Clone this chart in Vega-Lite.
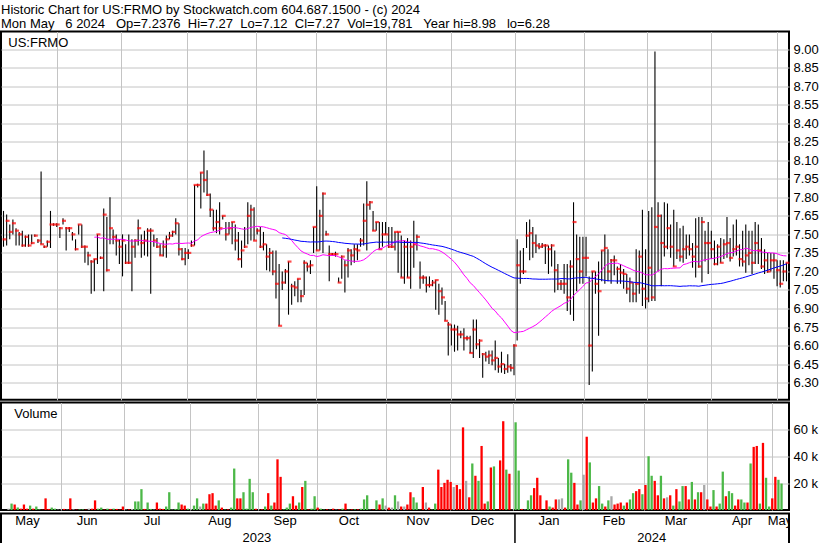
{
"$schema":"https://vega.github.io/schema/vega-lite/v6.json",
"background":"white",
"padding":{"top":3.5,"left":0,"right":0,"bottom":0},
"spacing":0,
"config":{"font":"Liberation Sans","view":{"stroke":"black","strokeWidth":2},
"axis":{"labelFont":"Liberation Sans","labelFontSize":13,"labelColor":"black","gridColor":"#c4c4c4","gridWidth":1,"gridOpacity":1,"domain":false,"ticks":false,"title":null,"minExtent":0,"labelOverlap":false}},
"title":{"text":["Historic Chart for US:FRMO by Stockwatch.com 604.687.1500 - (c) 2024","Mon May \u00a0 6 2024 \u00a0 Op=7.2376 \u00a0Hi=7.27 \u00a0Lo=7.12 \u00a0Cl=7.27 \u00a0Vol=19,781 \u00a0 Year hi=8.98 \u00a0 lo=6.28"],"anchor":"start","font":"Liberation Sans","fontSize":13,"fontWeight":"normal","color":"black","lineHeight":13.5,"offset":0,"dx":1},
"datasets":{
"d":[
{"i":0,"h":7.69,"l":7.40,"c":7.46,"v":1000,"d":"n"},
{"i":1,"h":7.66,"l":7.41,"c":7.61,"v":4800,"d":"u"},
{"i":2,"h":7.58,"l":7.46,"c":7.52,"v":4100,"d":"d"},
{"i":3,"h":7.62,"l":7.50,"c":7.59,"v":1800,"d":"u"},
{"i":4,"h":7.55,"l":7.41,"c":7.53,"v":1000,"d":"d"},
{"i":5,"h":7.52,"l":7.41,"c":7.50,"v":4100,"d":"d"},
{"i":6,"h":7.53,"l":7.40,"c":7.41,"v":1000,"d":"d"},
{"i":7,"h":7.49,"l":7.40,"c":7.48,"v":3300,"d":"u"},
{"i":8,"h":7.50,"l":7.40,"c":7.41,"v":1000,"d":"d"},
{"i":9,"h":7.50,"l":7.42,"c":7.43,"v":2600,"d":"u"},
{"i":10,"h":7.50,"l":7.48,"c":7.49,"v":500,"d":"u"},
{"i":11,"h":7.46,"l":7.43,"c":7.45,"v":300,"d":"d"},
{"i":12,"h":8.01,"l":7.42,"c":7.42,"v":8700,"d":"d"},
{"i":13,"h":7.41,"l":7.39,"c":7.40,"v":800,"d":"d"},
{"i":14,"h":7.45,"l":7.40,"c":7.44,"v":1800,"d":"u"},
{"i":15,"h":7.69,"l":7.39,"c":7.58,"v":1000,"d":"u"},
{"i":16,"h":7.59,"l":7.57,"c":7.58,"v":300,"d":"n"},
{"i":17,"h":7.59,"l":7.56,"c":7.58,"v":300,"d":"n"},
{"i":18,"h":7.56,"l":7.47,"c":7.55,"v":800,"d":"d"},
{"i":19,"h":7.63,"l":7.58,"c":7.61,"v":300,"d":"n"},
{"i":20,"h":7.56,"l":7.37,"c":7.55,"v":8700,"d":"d"},
{"i":21,"h":7.56,"l":7.52,"c":7.55,"v":500,"d":"n"},
{"i":22,"h":7.52,"l":7.45,"c":7.50,"v":300,"d":"d"},
{"i":23,"h":7.46,"l":7.37,"c":7.38,"v":500,"d":"u"},
{"i":24,"h":7.58,"l":7.50,"c":7.58,"v":500,"d":"u"},
{"i":25,"h":7.58,"l":7.39,"c":7.40,"v":300,"d":"d"},
{"i":26,"h":7.41,"l":7.27,"c":7.40,"v":1000,"d":"n"},
{"i":27,"h":7.36,"l":7.25,"c":7.33,"v":1000,"d":"d"},
{"i":28,"h":7.29,"l":7.02,"c":7.28,"v":7200,"d":"d"},
{"i":29,"h":7.30,"l":7.04,"c":7.30,"v":1000,"d":"u"},
{"i":30,"h":7.50,"l":7.26,"c":7.50,"v":1800,"d":"u"},
{"i":31,"h":7.32,"l":7.30,"c":7.31,"v":300,"d":"d"},
{"i":32,"h":7.71,"l":7.04,"c":7.66,"v":1000,"d":"u"},
{"i":33,"h":7.64,"l":7.20,"c":7.21,"v":800,"d":"d"},
{"i":34,"h":7.80,"l":7.42,"c":7.55,"v":1000,"d":"u"},
{"i":35,"h":7.54,"l":7.42,"c":7.48,"v":800,"d":"d"},
{"i":36,"h":7.50,"l":7.33,"c":7.45,"v":300,"d":"d"},
{"i":37,"h":7.46,"l":7.26,"c":7.40,"v":2600,"d":"d"},
{"i":38,"h":7.50,"l":7.16,"c":7.45,"v":300,"d":"n"},
{"i":39,"h":7.42,"l":7.26,"c":7.27,"v":500,"d":"d"},
{"i":40,"h":7.50,"l":7.26,"c":7.27,"v":800,"d":"n"},
{"i":41,"h":7.46,"l":7.04,"c":7.40,"v":6400,"d":"u"},
{"i":42,"h":7.46,"l":7.31,"c":7.45,"v":6400,"d":"u"},
{"i":43,"h":7.62,"l":7.41,"c":7.55,"v":15600,"d":"u"},
{"i":44,"h":7.50,"l":7.31,"c":7.43,"v":800,"d":"d"},
{"i":45,"h":7.53,"l":7.33,"c":7.45,"v":5600,"d":"u"},
{"i":46,"h":7.55,"l":7.32,"c":7.53,"v":800,"d":"u"},
{"i":47,"h":7.55,"l":7.02,"c":7.53,"v":300,"d":"n"},
{"i":48,"h":7.50,"l":7.40,"c":7.45,"v":5600,"d":"d"},
{"i":49,"h":7.47,"l":7.39,"c":7.40,"v":1000,"d":"d"},
{"i":50,"h":7.42,"l":7.33,"c":7.33,"v":800,"d":"d"},
{"i":51,"h":7.45,"l":7.32,"c":7.40,"v":2600,"d":"u"},
{"i":52,"h":7.49,"l":7.31,"c":7.46,"v":13300,"d":"u"},
{"i":53,"h":7.52,"l":7.46,"c":7.49,"v":300,"d":"n"},
{"i":54,"h":7.53,"l":7.48,"c":7.52,"v":800,"d":"u"},
{"i":55,"h":7.63,"l":7.50,"c":7.59,"v":5600,"d":"u"},
{"i":56,"h":7.59,"l":7.33,"c":7.38,"v":4100,"d":"d"},
{"i":57,"h":7.39,"l":7.29,"c":7.30,"v":3300,"d":"d"},
{"i":58,"h":7.39,"l":7.25,"c":7.35,"v":1000,"d":"u"},
{"i":59,"h":7.38,"l":7.30,"c":7.35,"v":800,"d":"n"},
{"i":60,"h":7.45,"l":7.40,"c":7.41,"v":3300,"d":"u"},
{"i":61,"h":7.90,"l":7.41,"c":7.90,"v":8700,"d":"u"},
{"i":62,"h":7.91,"l":7.88,"c":7.90,"v":2600,"d":"n"},
{"i":63,"h":8.00,"l":7.71,"c":8.00,"v":4800,"d":"u"},
{"i":64,"h":8.18,"l":7.84,"c":7.94,"v":4800,"d":"d"},
{"i":65,"h":8.02,"l":7.81,"c":7.82,"v":11800,"d":"d"},
{"i":66,"h":7.83,"l":7.64,"c":7.70,"v":12600,"d":"d"},
{"i":67,"h":7.70,"l":7.53,"c":7.55,"v":3300,"d":"d"},
{"i":68,"h":7.70,"l":7.51,"c":7.60,"v":7200,"d":"u"},
{"i":69,"h":7.76,"l":7.50,"c":7.55,"v":1800,"d":"d"},
{"i":70,"h":7.65,"l":7.62,"c":7.65,"v":300,"d":"u"},
{"i":71,"h":7.60,"l":7.45,"c":7.50,"v":500,"d":"d"},
{"i":72,"h":7.60,"l":7.50,"c":7.55,"v":1800,"d":"u"},
{"i":73,"h":7.60,"l":7.42,"c":7.60,"v":31000,"d":"u"},
{"i":74,"h":7.58,"l":7.37,"c":7.45,"v":8700,"d":"d"},
{"i":75,"h":7.52,"l":7.29,"c":7.30,"v":8700,"d":"d"},
{"i":76,"h":7.45,"l":7.23,"c":7.37,"v":13300,"d":"u"},
{"i":77,"h":7.56,"l":7.39,"c":7.40,"v":1000,"d":"u"},
{"i":78,"h":7.76,"l":7.42,"c":7.65,"v":23300,"d":"u"},
{"i":79,"h":7.74,"l":7.45,"c":7.70,"v":13300,"d":"u"},
{"i":80,"h":7.72,"l":7.45,"c":7.45,"v":1000,"d":"d"},
{"i":81,"h":7.55,"l":7.50,"c":7.53,"v":300,"d":"n"},
{"i":82,"h":7.56,"l":7.39,"c":7.40,"v":500,"d":"d"},
{"i":83,"h":7.52,"l":7.37,"c":7.42,"v":2600,"d":"u"},
{"i":84,"h":7.42,"l":7.21,"c":7.32,"v":12600,"d":"d"},
{"i":85,"h":7.39,"l":7.20,"c":7.35,"v":3300,"d":"u"},
{"i":86,"h":7.37,"l":7.17,"c":7.20,"v":5600,"d":"d"},
{"i":87,"h":7.37,"l":6.98,"c":7.10,"v":37900,"d":"d"},
{"i":88,"h":7.26,"l":6.76,"c":6.76,"v":24800,"d":"d"},
{"i":89,"h":7.20,"l":7.05,"c":7.11,"v":500,"d":"u"},
{"i":90,"h":7.22,"l":7.10,"c":7.20,"v":1800,"d":"u"},
{"i":91,"h":7.28,"l":6.85,"c":7.28,"v":4800,"d":"u"},
{"i":92,"h":7.10,"l":6.93,"c":7.08,"v":10300,"d":"d"},
{"i":93,"h":7.12,"l":7.00,"c":7.07,"v":3300,"d":"d"},
{"i":94,"h":7.14,"l":6.95,"c":7.14,"v":5600,"d":"u"},
{"i":95,"h":7.05,"l":6.95,"c":7.00,"v":17200,"d":"d"},
{"i":96,"h":7.29,"l":7.01,"c":7.27,"v":21800,"d":"u"},
{"i":97,"h":7.27,"l":7.20,"c":7.24,"v":500,"d":"d"},
{"i":98,"h":7.29,"l":7.18,"c":7.25,"v":1000,"d":"u"},
{"i":99,"h":7.56,"l":7.35,"c":7.56,"v":10300,"d":"u"},
{"i":100,"h":7.89,"l":7.37,"c":7.37,"v":1800,"d":"d"},
{"i":101,"h":7.70,"l":7.37,"c":7.65,"v":1000,"d":"u"},
{"i":102,"h":7.84,"l":7.35,"c":7.83,"v":300,"d":"u"},
{"i":103,"h":7.53,"l":7.49,"c":7.50,"v":500,"d":"d"},
{"i":104,"h":7.41,"l":7.12,"c":7.34,"v":200,"d":"n"},
{"i":105,"h":7.35,"l":7.33,"c":7.34,"v":1000,"d":"d"},
{"i":106,"h":7.36,"l":7.32,"c":7.34,"v":300,"d":"n"},
{"i":107,"h":7.15,"l":7.11,"c":7.11,"v":500,"d":"d"},
{"i":108,"h":7.33,"l":7.14,"c":7.32,"v":1000,"d":"u"},
{"i":109,"h":7.29,"l":7.03,"c":7.25,"v":4800,"d":"d"},
{"i":110,"h":7.39,"l":7.15,"c":7.37,"v":300,"d":"u"},
{"i":111,"h":7.38,"l":7.25,"c":7.33,"v":500,"d":"d"},
{"i":112,"h":7.42,"l":7.27,"c":7.38,"v":500,"d":"u"},
{"i":113,"h":7.42,"l":7.29,"c":7.37,"v":500,"d":"d"},
{"i":114,"h":7.47,"l":7.40,"c":7.45,"v":1000,"d":"u"},
{"i":115,"h":7.75,"l":7.41,"c":7.61,"v":7900,"d":"u"},
{"i":116,"h":7.93,"l":7.37,"c":7.74,"v":11000,"d":"u"},
{"i":117,"h":7.77,"l":7.70,"c":7.76,"v":300,"d":"n"},
{"i":118,"h":7.69,"l":7.53,"c":7.53,"v":500,"d":"d"},
{"i":119,"h":7.60,"l":7.53,"c":7.60,"v":7200,"d":"u"},
{"i":120,"h":7.60,"l":7.38,"c":7.38,"v":4100,"d":"d"},
{"i":121,"h":7.60,"l":7.40,"c":7.50,"v":8700,"d":"u"},
{"i":122,"h":7.60,"l":7.50,"c":7.50,"v":3300,"d":"n"},
{"i":123,"h":7.56,"l":7.39,"c":7.40,"v":1800,"d":"d"},
{"i":124,"h":7.56,"l":7.39,"c":7.40,"v":1800,"d":"n"},
{"i":125,"h":7.52,"l":7.37,"c":7.52,"v":11000,"d":"u"},
{"i":126,"h":7.52,"l":7.19,"c":7.52,"v":6400,"d":"n"},
{"i":127,"h":7.49,"l":7.15,"c":7.15,"v":2600,"d":"d"},
{"i":128,"h":7.45,"l":7.10,"c":7.40,"v":2600,"d":"n"},
{"i":129,"h":7.47,"l":7.15,"c":7.15,"v":4100,"d":"d"},
{"i":130,"h":7.45,"l":7.06,"c":7.40,"v":13300,"d":"d"},
{"i":131,"h":7.61,"l":7.23,"c":7.42,"v":9500,"d":"u"},
{"i":132,"h":7.50,"l":7.37,"c":7.48,"v":5600,"d":"u"},
{"i":133,"h":7.28,"l":7.06,"c":7.15,"v":300,"d":"u"},
{"i":134,"h":7.17,"l":7.10,"c":7.15,"v":17200,"d":"d"},
{"i":135,"h":7.16,"l":7.03,"c":7.09,"v":5600,"d":"n"},
{"i":136,"h":7.16,"l":7.07,"c":7.09,"v":1800,"d":"d"},
{"i":137,"h":7.13,"l":7.08,"c":7.11,"v":300,"d":"u"},
{"i":138,"h":7.13,"l":6.89,"c":7.13,"v":4800,"d":"u"},
{"i":139,"h":7.10,"l":6.85,"c":7.04,"v":30200,"d":"d"},
{"i":140,"h":7.07,"l":6.93,"c":6.99,"v":17200,"d":"d"},
{"i":141,"h":6.96,"l":6.80,"c":6.80,"v":20300,"d":"d"},
{"i":142,"h":6.79,"l":6.52,"c":6.77,"v":22600,"d":"d"},
{"i":143,"h":6.77,"l":6.60,"c":6.73,"v":21000,"d":"d"},
{"i":144,"h":6.77,"l":6.55,"c":6.73,"v":17200,"d":"n"},
{"i":145,"h":6.76,"l":6.56,"c":6.69,"v":18700,"d":"d"},
{"i":146,"h":6.72,"l":6.66,"c":6.69,"v":15600,"d":"d"},
{"i":147,"h":6.74,"l":6.56,"c":6.66,"v":61800,"d":"d"},
{"i":148,"h":6.68,"l":6.64,"c":6.66,"v":21800,"d":"n"},
{"i":149,"h":6.68,"l":6.54,"c":6.54,"v":9500,"d":"d"},
{"i":150,"h":6.81,"l":6.50,"c":6.73,"v":34800,"d":"u"},
{"i":151,"h":6.81,"l":6.57,"c":6.61,"v":25600,"d":"d"},
{"i":152,"h":6.65,"l":6.50,"c":6.64,"v":21800,"d":"u"},
{"i":153,"h":6.54,"l":6.34,"c":6.53,"v":47900,"d":"d"},
{"i":154,"h":6.55,"l":6.47,"c":6.51,"v":4800,"d":"d"},
{"i":155,"h":6.56,"l":6.45,"c":6.52,"v":6400,"d":"u"},
{"i":156,"h":6.56,"l":6.44,"c":6.48,"v":31800,"d":"d"},
{"i":157,"h":6.64,"l":6.40,"c":6.50,"v":32600,"d":"u"},
{"i":158,"h":6.50,"l":6.38,"c":6.43,"v":300,"d":"d"},
{"i":159,"h":6.55,"l":6.38,"c":6.45,"v":37100,"d":"d"},
{"i":160,"h":6.45,"l":6.37,"c":6.41,"v":66400,"d":"d"},
{"i":161,"h":6.53,"l":6.38,"c":6.43,"v":30200,"d":"u"},
{"i":162,"h":6.45,"l":6.39,"c":6.42,"v":27100,"d":"d"},
{"i":163,"h":6.61,"l":6.36,"c":6.60,"v":200,"d":"n"},
{"i":164,"h":7.46,"l":6.64,"c":7.25,"v":65600,"d":"u"},
{"i":165,"h":7.37,"l":7.10,"c":7.20,"v":29500,"d":"u"},
{"i":166,"h":7.39,"l":7.18,"c":7.20,"v":800,"d":"d"},
{"i":167,"h":7.60,"l":7.39,"c":7.49,"v":300,"d":"n"},
{"i":168,"h":7.62,"l":7.29,"c":7.51,"v":7200,"d":"u"},
{"i":169,"h":7.56,"l":7.31,"c":7.43,"v":11000,"d":"u"},
{"i":170,"h":7.50,"l":7.35,"c":7.41,"v":16400,"d":"d"},
{"i":171,"h":7.43,"l":7.38,"c":7.40,"v":24100,"d":"d"},
{"i":172,"h":7.43,"l":7.39,"c":7.41,"v":11000,"d":"d"},
{"i":173,"h":7.42,"l":7.26,"c":7.41,"v":300,"d":"u"},
{"i":174,"h":7.41,"l":7.18,"c":7.38,"v":7200,"d":"d"},
{"i":175,"h":7.42,"l":7.24,"c":7.41,"v":2600,"d":"u"},
{"i":176,"h":7.37,"l":7.03,"c":7.21,"v":1800,"d":"d"},
{"i":177,"h":7.26,"l":7.05,"c":7.10,"v":7900,"d":"d"},
{"i":178,"h":7.13,"l":7.05,"c":7.10,"v":7900,"d":"n"},
{"i":179,"h":7.26,"l":7.02,"c":7.10,"v":8700,"d":"n"},
{"i":180,"h":7.26,"l":6.88,"c":6.99,"v":1800,"d":"d"},
{"i":181,"h":7.29,"l":6.85,"c":7.24,"v":37900,"d":"u"},
{"i":182,"h":7.76,"l":6.80,"c":7.60,"v":27900,"d":"u"},
{"i":183,"h":7.50,"l":7.04,"c":7.30,"v":20300,"d":"d"},
{"i":184,"h":7.48,"l":7.10,"c":7.20,"v":4100,"d":"d"},
{"i":185,"h":7.48,"l":7.10,"c":7.31,"v":7200,"d":"u"},
{"i":186,"h":7.48,"l":7.16,"c":7.31,"v":26400,"d":"n"},
{"i":187,"h":7.16,"l":6.28,"c":6.60,"v":54800,"d":"d"},
{"i":188,"h":7.20,"l":6.39,"c":7.20,"v":35600,"d":"u"},
{"i":189,"h":7.20,"l":7.02,"c":7.10,"v":5600,"d":"d"},
{"i":190,"h":7.28,"l":6.68,"c":7.04,"v":8700,"d":"d"},
{"i":191,"h":7.37,"l":7.12,"c":7.37,"v":17900,"d":"u"},
{"i":192,"h":7.50,"l":7.10,"c":7.39,"v":4800,"d":"u"},
{"i":193,"h":7.38,"l":7.12,"c":7.20,"v":2600,"d":"d"},
{"i":194,"h":7.30,"l":7.10,"c":7.29,"v":7200,"d":"u"},
{"i":195,"h":7.33,"l":7.17,"c":7.29,"v":10300,"d":"n"},
{"i":196,"h":7.24,"l":7.10,"c":7.22,"v":4100,"d":"d"},
{"i":197,"h":7.26,"l":7.10,"c":7.19,"v":4800,"d":"d"},
{"i":198,"h":7.22,"l":7.06,"c":7.18,"v":5600,"d":"d"},
{"i":199,"h":7.18,"l":7.02,"c":7.06,"v":3300,"d":"u"},
{"i":200,"h":7.15,"l":6.95,"c":7.11,"v":5600,"d":"d"},
{"i":201,"h":7.11,"l":6.95,"c":7.02,"v":7900,"d":"u"},
{"i":202,"h":7.38,"l":6.95,"c":7.10,"v":12600,"d":"u"},
{"i":203,"h":7.37,"l":7.02,"c":7.32,"v":14100,"d":"d"},
{"i":204,"h":7.70,"l":6.92,"c":7.06,"v":15600,"d":"d"},
{"i":205,"h":7.38,"l":6.90,"c":6.98,"v":11800,"d":"u"},
{"i":206,"h":7.69,"l":6.95,"c":7.23,"v":18700,"d":"d"},
{"i":207,"h":7.72,"l":6.96,"c":6.99,"v":40200,"d":"u"},
{"i":208,"h":8.98,"l":6.96,"c":7.56,"v":25600,"d":"u"},
{"i":209,"h":7.76,"l":7.20,"c":7.65,"v":21800,"d":"d"},
{"i":210,"h":7.66,"l":7.08,"c":7.43,"v":11000,"d":"d"},
{"i":211,"h":7.76,"l":7.32,"c":7.40,"v":25600,"d":"u"},
{"i":212,"h":7.75,"l":7.38,"c":7.55,"v":8700,"d":"d"},
{"i":213,"h":7.58,"l":7.31,"c":7.40,"v":9500,"d":"n"},
{"i":214,"h":7.70,"l":7.24,"c":7.24,"v":11000,"d":"d"},
{"i":215,"h":7.60,"l":7.30,"c":7.37,"v":3300,"d":"u"},
{"i":216,"h":7.55,"l":7.28,"c":7.32,"v":15600,"d":"d"},
{"i":217,"h":7.57,"l":7.27,"c":7.38,"v":6400,"d":"u"},
{"i":218,"h":7.50,"l":7.30,"c":7.40,"v":17900,"d":"u"},
{"i":219,"h":7.50,"l":7.33,"c":7.38,"v":17900,"d":"d"},
{"i":220,"h":7.43,"l":7.23,"c":7.32,"v":7900,"d":"d"},
{"i":221,"h":7.63,"l":7.15,"c":7.40,"v":21000,"d":"u"},
{"i":222,"h":7.64,"l":7.23,"c":7.24,"v":7900,"d":"d"},
{"i":223,"h":7.64,"l":7.11,"c":7.60,"v":13300,"d":"u"},
{"i":224,"h":7.53,"l":7.28,"c":7.43,"v":13300,"d":"d"},
{"i":225,"h":7.60,"l":7.18,"c":7.43,"v":18700,"d":"n"},
{"i":226,"h":7.53,"l":7.30,"c":7.38,"v":7900,"d":"d"},
{"i":227,"h":7.45,"l":7.25,"c":7.26,"v":2600,"d":"d"},
{"i":228,"h":7.42,"l":7.25,"c":7.40,"v":14900,"d":"u"},
{"i":229,"h":7.47,"l":7.27,"c":7.27,"v":2600,"d":"d"},
{"i":230,"h":7.46,"l":7.30,"c":7.42,"v":4800,"d":"u"},
{"i":231,"h":7.64,"l":7.31,"c":7.43,"v":28700,"d":"u"},
{"i":232,"h":7.47,"l":7.28,"c":7.31,"v":10300,"d":"d"},
{"i":233,"h":7.58,"l":7.32,"c":7.38,"v":14100,"d":"u"},
{"i":234,"h":7.62,"l":7.33,"c":7.40,"v":12600,"d":"u"},
{"i":235,"h":7.42,"l":7.24,"c":7.30,"v":3300,"d":"d"},
{"i":236,"h":7.53,"l":7.24,"c":7.28,"v":7900,"d":"d"},
{"i":237,"h":7.58,"l":7.19,"c":7.33,"v":7900,"d":"u"},
{"i":238,"h":7.53,"l":7.25,"c":7.35,"v":5600,"d":"u"},
{"i":239,"h":7.53,"l":7.18,"c":7.27,"v":5600,"d":"d"},
{"i":240,"h":7.60,"l":7.26,"c":7.43,"v":34800,"d":"u"},
{"i":241,"h":7.58,"l":7.26,"c":7.37,"v":47200,"d":"d"},
{"i":242,"h":7.47,"l":7.22,"c":7.24,"v":47900,"d":"d"},
{"i":243,"h":7.38,"l":7.18,"c":7.29,"v":4800,"d":"u"},
{"i":244,"h":7.35,"l":7.19,"c":7.20,"v":50200,"d":"d"},
{"i":245,"h":7.35,"l":7.20,"c":7.29,"v":24100,"d":"u"},
{"i":246,"h":7.35,"l":7.14,"c":7.29,"v":2600,"d":"u"},
{"i":247,"h":7.29,"l":7.08,"c":7.21,"v":8700,"d":"d"},
{"i":248,"h":7.29,"l":7.07,"c":7.10,"v":24800,"d":"d"},
{"i":249,"h":7.29,"l":7.12,"c":7.20,"v":22600,"d":"u"},
{"i":250,"h":7.27,"l":7.12,"c":7.27,"v":19781,"d":"u"}
],
"lab":[{"t":"May","i":7.66,"r":1.5},{"t":"Jun","i":26.7,"r":1.5},{"t":"Jul","i":47.4,"r":1.5},{"t":"Aug","i":69.1,"r":1.5},{"t":"Sep","i":89.9,"r":1.5},{"t":"Oct","i":110.3,"r":1.5},{"t":"Nov","i":132.3,"r":1.5},{"t":"Dec","i":152.9,"r":1.5},{"t":"Jan","i":174.2,"r":1.5},{"t":"Feb","i":194.9,"r":1.5},{"t":"Mar","i":214.7,"r":1.5},{"t":"Apr","i":235.8,"r":1.5},{"t":"May","i":247.9,"r":1.5},{"t":"2023","i":80.9,"r":0.46},{"t":"2024","i":207.0,"r":0.46}]
},
"vconcat":[
{"width":788,"height":368.3,
"data":{"name":"d"},
"resolve":{"axis":{"y":"independent"}},
"encoding":{"x":{"field":"i","type":"quantitative","scale":{"domain":[-0.8,250.8],"nice":false,"zero":false},"axis":{"values":[17.08,37.52,58.59,80.62,99.78,122.13,142.88,163.31,185.34,205.46,225.89,246.97],"grid":true,"labels":false,"orient":"bottom"}}},
"layer":[
{"mark":{"type":"rule","color":"black","strokeWidth":1.1},
"encoding":{"y":{"field":"l","type":"quantitative","scale":{"domain":[6.1608,9.1425],"nice":false,"zero":false},"axis":{"orient":"right","values":[6.30,6.45,6.60,6.75,6.90,7.05,7.20,7.35,7.50,7.65,7.80,7.95,8.10,8.25,8.40,8.55,8.70,8.85,9.00],"format":".2f","grid":true,"labelPadding":4,"labelOverlap":false,"labelBound":false}},"y2":{"field":"h"}}},
{"mark":{"type":"tick","orient":"horizontal","color":"#ff0000","size":4,"thickness":2.2,"xOffset":1},
"encoding":{"y":{"field":"c","type":"quantitative","axis":null}}},
{"transform":[{"window":[{"op":"mean","field":"c","as":"m"},{"op":"count","as":"n"}],"frame":[-29,0],"sort":[{"field":"i"}]},{"filter":"datum.n >= 30"}],
"mark":{"type":"line","color":"#ff00ff","strokeWidth":1},
"encoding":{"y":{"field":"m","type":"quantitative","axis":null}}},
{"transform":[{"window":[{"op":"mean","field":"c","as":"m"},{"op":"count","as":"n"}],"frame":[-89,0],"sort":[{"field":"i"}]},{"filter":"datum.n >= 90"}],
"mark":{"type":"line","color":"#0000ff","strokeWidth":1},
"encoding":{"y":{"field":"m","type":"quantitative","axis":null}}},
{"data":{"values":[{"i":1.53,"p":9.013,"t":"US:FRMO"}]},
"mark":{"type":"text","align":"left","baseline":"alphabetic","fontSize":13,"color":"black"},
"encoding":{"y":{"field":"p","type":"quantitative","axis":null},"text":{"field":"t"}}}
]},
{"width":788,"height":107.5,
"data":{"name":"d"},
"resolve":{"axis":{"y":"independent"}},
"encoding":{"x":{"field":"i","type":"quantitative","scale":{"domain":[-0.8,250.8],"nice":false,"zero":false},"axis":{"values":[17.08,37.52,58.59,80.62,99.78,122.13,142.88,163.31,185.34,205.46,225.89,246.97],"grid":true,"labels":false,"orient":"bottom"}}},
"layer":[
{"mark":{"type":"bar","width":2.3},
"encoding":{"y":{"field":"v","type":"quantitative","scale":{"domain":[0,80400],"nice":false},"axis":{"orient":"right","values":[20000,40000,60000],"labelExpr":"datum.value/1000 + ' k'","grid":true,"labelPadding":4,"labelOverlap":false}},
"color":{"field":"d","type":"nominal","scale":{"domain":["u","d","n"],"range":["#4cb848","#ff0000","#a8a8a8"]},"legend":null}}},
{"data":{"values":[{"i":1.85,"v":69000,"t":"Volume"}]},
"mark":{"type":"text","align":"left","baseline":"alphabetic","fontSize":13,"color":"black"},
"encoding":{"y":{"field":"v","type":"quantitative","axis":null},"text":{"field":"t"}}}
]},
{"width":788,"height":31.2,
"encoding":{"x":{"field":"i","type":"quantitative","scale":{"domain":[-0.8,250.8],"nice":false,"zero":false},"axis":null}},
"layer":[
{"data":{"name":"lab"},"mark":{"type":"text","fontSize":13,"baseline":"middle","color":"black","clip":true},
"encoding":{"y":{"field":"r","type":"quantitative","scale":{"domain":[0,2],"nice":false,"zero":false},"axis":null},"text":{"field":"t"}}},
{"data":{"values":[{"r":0.962}]},"mark":{"type":"rule","color":"black","strokeWidth":2},"encoding":{"y":{"field":"r","type":"quantitative","axis":null}}},
{"data":{"values":[{"i":163.3}]},"mark":{"type":"rule","color":"black","strokeWidth":1.5},"encoding":{}}
]}
]
}
